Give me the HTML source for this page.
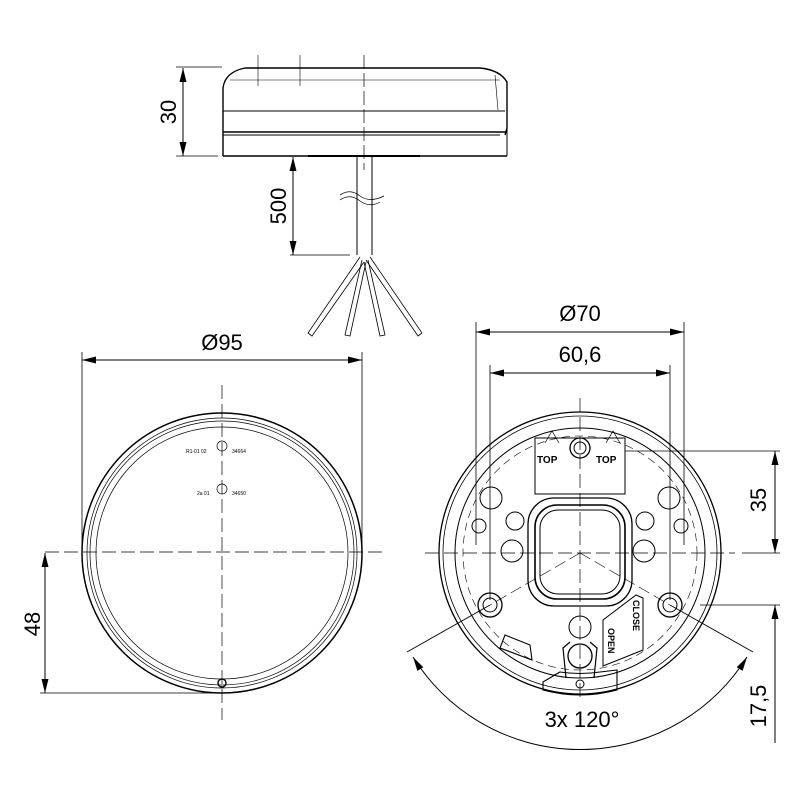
<!DOCTYPE html>
<html><head><style>html,body{margin:0;padding:0;background:#fff}svg{display:block}</style></head>
<body>
<svg width="800" height="800" viewBox="0 0 800 800" xmlns="http://www.w3.org/2000/svg" font-family="Liberation Sans, sans-serif">
<g fill="none" stroke="#000" stroke-width="1">
<path d="M223,156 L223,88 Q225,72 245,68 L480,68 Q500,70 507,82 L507,128 L505,135" stroke-width="1.4"/>
<line x1="223" y1="156" x2="507" y2="156" stroke-width="1.4"/>
<line x1="507" y1="128" x2="507" y2="156"/>
<line x1="223" y1="111" x2="505" y2="111"/>
<line x1="223" y1="132" x2="507" y2="132" stroke-width="1.4"/>
<line x1="223" y1="135" x2="500" y2="135"/>
<line x1="230" y1="80" x2="500" y2="80" stroke-width="0.6"/>
<path d="M495,75 L498,110" stroke-width="0.6"/>
<line x1="308" y1="156" x2="420" y2="156" stroke-width="2"/>
<line x1="364" y1="55" x2="364" y2="170" stroke-dasharray="14,4" stroke-width="0.7"/>
<line x1="258" y1="55" x2="258" y2="86" stroke-width="0.6"/>
<line x1="300" y1="55" x2="300" y2="86" stroke-width="0.6"/>
<line x1="357" y1="156" x2="357" y2="255"/>
<line x1="372" y1="156" x2="372" y2="255"/>
<path d="M340,195 Q350,188 360,196 Q370,203 384,196" stroke-width="0.7"/>
<path d="M340,200 Q350,193 360,201 Q370,208 380,202" stroke-width="0.7"/>
<path d="M360,257 L308,333 L312,336 L364,262" stroke-width="0.8"/>
<path d="M362,260 L345,335 L350,336 L366,262" stroke-width="0.8"/>
<path d="M364,262 L380,336 L385,335 L368,260" stroke-width="0.8"/>
<path d="M366,260 L418,336 L422,333 L370,257" stroke-width="0.8"/>
<line x1="176" y1="67" x2="222" y2="67" stroke-width="0.8"/>
<line x1="176" y1="156" x2="218" y2="156" stroke-width="0.8"/>
<line x1="183" y1="68" x2="183" y2="156"/>
<line x1="290" y1="255" x2="350" y2="255" stroke-width="0.8"/>
<line x1="293" y1="157" x2="293" y2="255"/>

<circle cx="222" cy="553" r="140" stroke-width="1.5"/>
<circle cx="222" cy="553" r="135" stroke-width="0.7"/>
<circle cx="222" cy="553" r="132" stroke-width="0.7"/>
<circle cx="222" cy="553" r="126" stroke-width="0.7"/>
<circle cx="222" cy="683" r="4" stroke-width="1.4"/>
<line x1="222" y1="385" x2="222" y2="720" stroke-dasharray="14,5" stroke-width="0.7"/>
<line x1="45" y1="552" x2="385" y2="552" stroke-dasharray="14,5" stroke-width="0.7"/>
<circle cx="222" cy="446" r="5" stroke-width="0.7"/>
<circle cx="222" cy="489" r="5" stroke-width="0.7"/>
<line x1="82" y1="352" x2="82" y2="552" stroke-width="0.8"/>
<line x1="362" y1="352" x2="362" y2="552" stroke-width="0.8"/>
<line x1="82" y1="360" x2="362" y2="360"/>
<line x1="40" y1="693" x2="222" y2="693" stroke-width="0.8"/>
<line x1="45" y1="553" x2="45" y2="693"/>

<circle cx="580" cy="553" r="141" stroke-width="1.3"/>
<circle cx="580" cy="553" r="137" stroke-width="0.8"/>
<circle cx="580" cy="553" r="125" stroke-width="1"/>
<circle cx="580" cy="553" r="117" stroke-width="0.6" stroke-dasharray="8,5"/>
<line x1="580" y1="398" x2="580" y2="700" stroke-dasharray="14,5" stroke-width="0.7"/>
<line x1="425" y1="553" x2="735" y2="553" stroke-dasharray="14,5" stroke-width="0.7"/>
<line x1="580" y1="553" x2="490" y2="605" stroke-dasharray="12,5" stroke-width="0.6"/>
<line x1="580" y1="553" x2="670" y2="605" stroke-dasharray="12,5" stroke-width="0.6"/>
<rect x="535" y="438" width="90" height="56" stroke-width="1"/>
<circle cx="580" cy="448" r="10" stroke-width="1.3"/>
<circle cx="580" cy="448" r="6"/>
<rect x="528" y="498" width="104" height="108" rx="26" stroke-width="1.3"/>
<rect x="535" y="505" width="90" height="94" rx="22" stroke-width="1.6"/>
<rect x="540" y="510" width="80" height="84" rx="18"/>
<circle cx="491" cy="498" r="11"/><circle cx="669" cy="498" r="11"/>
<circle cx="479" cy="526" r="7"/><circle cx="681" cy="526" r="7"/>
<circle cx="515" cy="521" r="9"/><circle cx="645" cy="521" r="9"/>
<circle cx="512" cy="551" r="11"/><circle cx="644" cy="551" r="11"/>
<circle cx="490" cy="605" r="12" stroke-width="1.3"/><circle cx="490" cy="605" r="7"/>
<circle cx="670" cy="605" r="12" stroke-width="1.3"/><circle cx="670" cy="605" r="7"/>
<circle cx="580" cy="627" r="11"/>
<circle cx="580" cy="656" r="12" stroke-width="1.3"/>
<path d="M566,678 L563,648 L570,642 M594,678 L597,648 L590,642" stroke-width="1.2"/>
<path d="M543,682 L543,690 Q580,700 617,690 L617,670 L600,672 Q580,675 560,672 Z" stroke-width="1.1"/>
<circle cx="580" cy="684" r="4"/>
<path d="M505,635 L530,645 L532,660 L500,648 Z" stroke-width="1.1"/>
<path d="M603,666 L603,620 L636,595 L643,598 L643,650 Z" stroke-width="1"/>
<path d="M545,443 L552,431 L559,443 M606,443 L613,431 L620,443" stroke-width="0.7"/>
<line x1="625" y1="451" x2="780" y2="451" stroke-width="0.8"/>
<line x1="476" y1="322" x2="476" y2="545" stroke-width="0.8"/>
<line x1="684" y1="322" x2="684" y2="545" stroke-width="0.8"/>
<line x1="476" y1="332" x2="684" y2="332"/>
<line x1="490" y1="365" x2="490" y2="600" stroke-width="0.8"/>
<line x1="670" y1="365" x2="670" y2="600" stroke-width="0.8"/>
<line x1="490" y1="373" x2="670" y2="373"/>
<line x1="742" y1="553" x2="780" y2="553" stroke-width="0.8"/>
<line x1="700" y1="605" x2="780" y2="605" stroke-width="0.8"/>
<line x1="775" y1="451" x2="775" y2="553"/>
<line x1="775" y1="605" x2="775" y2="743"/>
<line x1="670" y1="605" x2="753" y2="652" stroke-width="0.9"/>
<line x1="490" y1="605" x2="407" y2="652" stroke-width="0.9"/>
<path d="M747,657 A197,197 0 0 1 413,657"/>
</g>
<g fill="#000" stroke="none">
<polygon points="183,68 179.5,82 186.5,82"/><polygon points="183,156 179.5,142 186.5,142"/>
<polygon points="293,157 289.5,171 296.5,171"/><polygon points="293,255 289.5,241 296.5,241"/>
<polygon points="82,360 96,356.5 96,363.5"/><polygon points="362,360 348,356.5 348,363.5"/>
<polygon points="45,553 41.5,567 48.5,567"/><polygon points="45,693 41.5,679 48.5,679"/>
<polygon points="476,332 490,328.5 490,335.5"/><polygon points="684,332 670,328.5 670,335.5"/>
<polygon points="490,373 504,369.5 504,376.5"/><polygon points="670,373 656,369.5 656,376.5"/>
<polygon points="775,451 771.5,465 778.5,465"/><polygon points="775,553 771.5,539 778.5,539"/>
<polygon points="775,605 771.5,619 778.5,619"/>
<polygon points="747,657 742.6,670.9 736.7,667.2"/><polygon points="413,657 417.4,670.9 423.3,667.2"/>
</g>
<g fill="#000" font-size="22">
<text transform="translate(176,112) rotate(-90)" text-anchor="middle">30</text>
<text transform="translate(286,206) rotate(-90)" text-anchor="middle">500</text>
<text x="222" y="350" text-anchor="middle">Ø95</text>
<text transform="translate(40,624) rotate(-90)" text-anchor="middle">48</text>
<text x="580" y="321" text-anchor="middle">Ø70</text>
<text x="580" y="362" text-anchor="middle">60,6</text>
<text transform="translate(766,500) rotate(-90)" text-anchor="middle">35</text>
<text transform="translate(766,706) rotate(-90)" text-anchor="middle">17,5</text>
<text x="582" y="727" text-anchor="middle">3x 120°</text>
</g>
<g fill="#000" font-size="10" font-weight="bold">
<text x="537" y="463">TOP</text><text x="596" y="463">TOP</text>
<text transform="translate(608,628) rotate(90)" font-size="9">OPEN</text>
<text transform="translate(633,600) rotate(90)" font-size="9">CLOSE</text>
</g>
<g fill="#000" font-size="5">
<text x="186" y="453">R1-01 02</text><text x="232" y="453">34664</text>
<text x="197" y="495">2a 01</text><text x="232" y="495">34650</text>
</g>
</svg>
</body></html>
